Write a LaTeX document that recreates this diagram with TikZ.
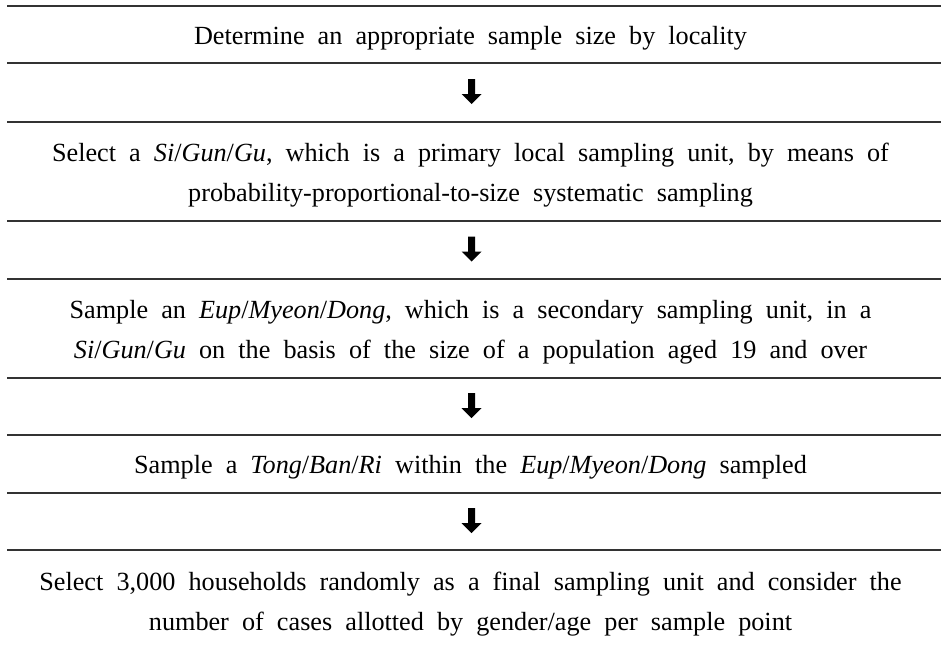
\documentclass[tikz,border=0pt]{standalone}
\usepackage{fontspec}
\setmainfont{Liberation Serif}
\begin{document}
\begin{tikzpicture}[x=1pt,y=-1pt,
  rule/.style={draw=black!80,line width=1.8pt},
  steptext/.style={align=center,inner sep=0pt,
    font={\fontsize{26.2}{40}\selectfont\frenchspacing\spaceskip=0.5em plus 0.1em\relax}},
  downarrow/.style={fill=black}
]
\useasboundingbox (0,0) rectangle (941,648);
% horizontal rules
\foreach \yy/\nm in {6/r1,63/r2,122/r3,221/r4,279/r5,378/r6,435/r7,493/r8,550/r9}{
  \coordinate (\nm L) at (7,\yy);
  \coordinate (\nm R) at (941,\yy);
  \draw[rule] (\nm L) -- (\nm R);
}
% texts
\node[steptext] (t1) at (470.5,38) {Determine an appropriate sample size by locality};
\node[steptext] (t2) at (470.5,175) {Select a \textit{Si}/\textit{Gun}/\textit{Gu}, which is a primary local sampling unit, by means of\\probability-proportional-to-size systematic sampling};
\node[steptext] (t3) at (470.5,332) {Sample an \textit{Eup}/\textit{Myeon}/\textit{Dong}, which is a secondary sampling unit, in a\\\textit{Si}/\textit{Gun}/\textit{Gu} on the basis of the size of a population aged 19 and over};
\node[steptext] (t4) at (470.5,467.5) {Sample a \textit{Tong}/\textit{Ban}/\textit{Ri} within the \textit{Eup}/\textit{Myeon}/\textit{Dong} sampled};
\node[steptext] (t5) at (470.5,604.5) {Select 3,000 households randomly as a final sampling unit and consider the\\number of cases allotted by gender/age per sample point};
% arrows
\foreach \cy/\nm in {92.5/a1,250/a2,406.5/a3,521.5/a4}{
  \coordinate (\nm) at (471.5,\cy);
  \fill[downarrow] ([shift={(-3.5,-13.5)}]\nm) -- ([shift={(3.5,-13.5)}]\nm)
    -- ([shift={(3.5,1.5)}]\nm) -- ([shift={(10,1.5)}]\nm)
    -- ([shift={(0,11.5)}]\nm) -- ([shift={(-10,1.5)}]\nm)
    -- ([shift={(-3.5,1.5)}]\nm) -- cycle;
}
\end{tikzpicture}
\end{document}
